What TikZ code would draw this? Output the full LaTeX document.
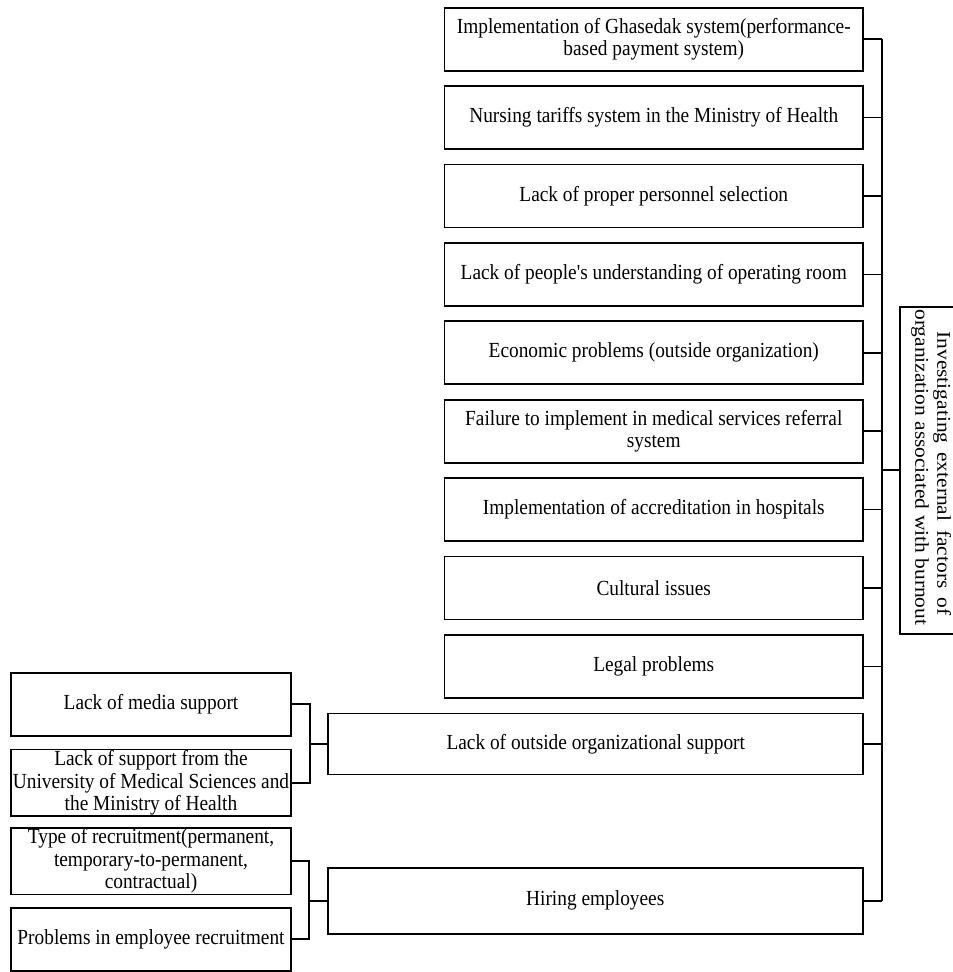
\documentclass[tikz,border=0pt]{standalone}
\usepackage{fontspec}
\setmainfont{Liberation Serif}
\newfontfamily\hfam{Liberation Serif}[FakeStretch=0.9]
\newfontfamily\vfam{Liberation Serif}[FakeStretch=1.1]
\begin{document}
\begin{tikzpicture}[x=1pt,y=-1pt,
  box/.style={draw, line width=1.7pt, inner sep=1pt, align=center,
    font=\hfam\fontsize{21.5}{22.5}\selectfont},
  rbox/.style={box, minimum width=418.5pt, minimum height=63pt},
  wbox/.style={box, minimum width=535pt},
  lbox/.style={box, minimum width=280pt},
  wire/.style={line width=1.7pt}]
\useasboundingbox (0,0) rectangle (953,972);
\clip (0,0) rectangle (953,972);
% right column
\node[rbox] (b1) at (653.75,39.2) {Implementation of Ghasedak system(performance-\\based payment system)};
\node[rbox] (b2) at (653.75,117.6) {Nursing tariffs system in the Ministry of Health};
\node[rbox] (b3) at (653.75,196) {Lack of proper personnel selection};
\node[rbox] (b4) at (653.75,274.4) {Lack of people's understanding of operating room};
\node[rbox] (b5) at (653.75,352.8) {Economic problems (outside organization)};
\node[rbox] (b6) at (653.75,431.2) {Failure to implement in medical services referral\\system};
\node[rbox] (b7) at (653.75,509.6) {Implementation of accreditation in hospitals};
\node[rbox] (b8) at (653.75,588) {Cultural issues};
\node[rbox] (b9) at (653.75,666.4) {Legal problems};
\node[wbox, minimum height=61pt] (out) at (595.75,744) {Lack of outside organizational support};
\node[wbox, minimum height=66pt] (hire) at (595.25,900.7) {Hiring employees};
% left column
\node[lbox, minimum height=63pt] (media) at (151,704.3) {Lack of media support};
\node[lbox, minimum height=62pt] (supp) at (151,782.8) {Lack of support from the\\University of Medical Sciences and\\the Ministry of Health};
\node[lbox, minimum height=62pt] (type) at (151,861) {Type of recruitment(permanent,\\temporary-to-permanent,\\contractual)};
\node[lbox, minimum height=63pt] (prob) at (151,939.3) {Problems in employee recruitment};
% root
\node[draw, line width=1.7pt, rotate=-90, minimum width=327.3pt, minimum height=62pt,
  inner sep=1pt, align=center, font=\vfam\fontsize{19.5}{22}\selectfont, xshift=0pt]
  (root) at (931,470.3) {\hspace*{6pt}Investigating\hspace{0.45em}external\hspace{0.45em}factors\hspace{0.45em}of\\organization associated with burnout\hspace*{6pt}};
% junction coordinates
\coordinate (bus) at (881.7,471.7);
\coordinate (j1) at (310,744);
\coordinate (j2) at (309,900.7);
% connectors to the bus
\foreach \n in {b1,b2,b3,b4,b5,b6,b7,b8,b9,out,hire}
  \draw[wire] (\n.east) -- (\n.east -| bus);
\draw[wire] (b1.east -| bus) -- (hire.east -| bus);
\draw[wire] (root.south -| bus) -- (root.south);
% left groups
\draw[wire] (media.east) -| (j1) |- (supp.east);
\draw[wire] (j1) -- (out.west);
\draw[wire] (type.east) -| (j2) |- (prob.east);
\draw[wire] (j2) -- (hire.west);
\end{tikzpicture}
\end{document}
